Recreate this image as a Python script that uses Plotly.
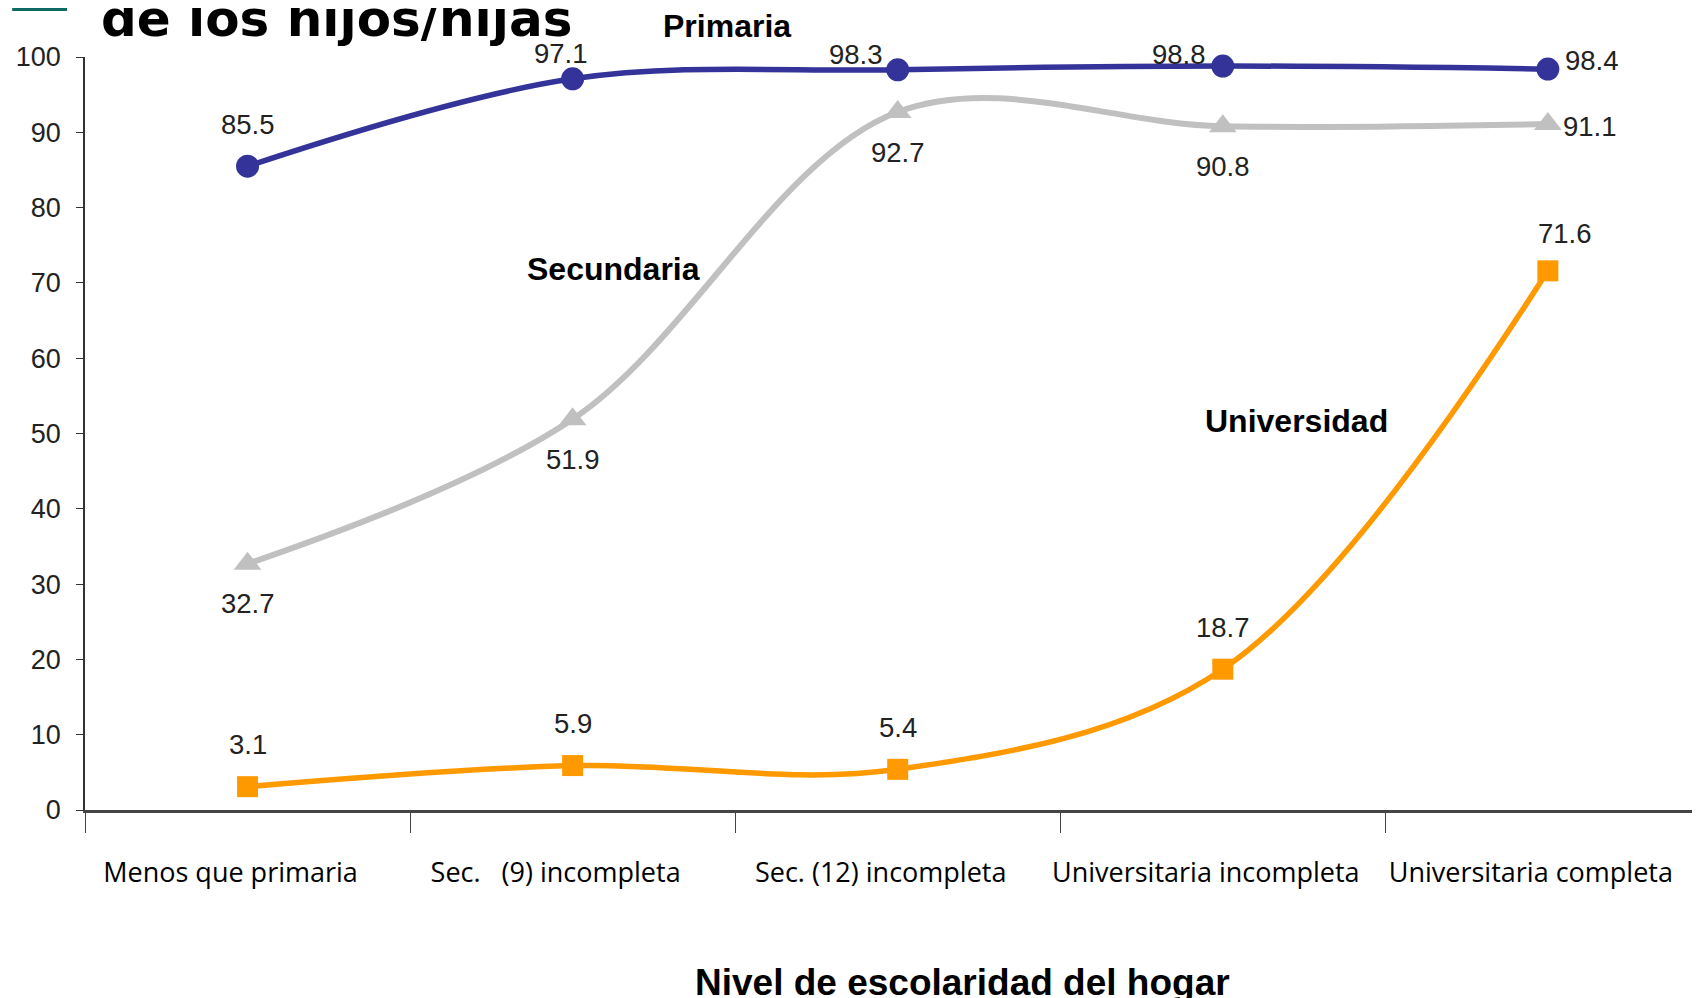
import plotly.graph_objects as go

categories = ["Menos que primaria", "Sec.   (9) incompleta", "Sec. (12) incompleta",
              "Universitaria incompleta", "Universitaria completa"]
primaria = [85.5, 97.1, 98.3, 98.8, 98.4]
secundaria = [32.7, 51.9, 92.7, 90.8, 91.1]
universidad = [3.1, 5.9, 5.4, 18.7, 71.6]
y_ticks = [0, 10, 20, 30, 40, 50, 60, 70, 80, 90, 100]

# label offsets (pixels) for the value labels
prim_shift = [(0, 42), (-12, 25), (-42, 15), (-44, 12), (44, 9)]
sec_shift = [(0, -40), (0, -40), (0, -41), (0, -40), (42, -2)]
uni_shift = [(0, 42), (0, 42), (0, 42), (0, 42), (17, 37)]

NAVY = "#333399"
GRAY = "#c0c0c0"
ORANGE = "#ff9900"

L, R, T, B = 73, 8, 49, 196
PW = 1700 - L - R
PH = 998 - T - B

fig = go.Figure()
series = [
    ("Primaria", primaria, NAVY, "circle", 23, 5.5, prim_shift),
    ("Secundaria", secundaria, GRAY, "triangle-up", 24, 6, sec_shift),
    ("Universidad", universidad, ORANGE, "square", 21, 5.5, uni_shift),
]
annotations = []
for name, vals, col, sym, msz, lw, shifts in series:
    fig.add_trace(go.Scatter(
        x=categories, y=vals, name=name, mode="lines+markers",
        line=dict(color=col, width=lw, shape="spline", smoothing=1),
        marker=dict(symbol=sym, size=msz, color=col),
        cliponaxis=False, showlegend=False,
    ))
    for c, v, (dx, dy) in zip(categories, vals, shifts):
        annotations.append(dict(
            x=c, y=v, xref="x", yref="y", text=f"{v:.1f}", showarrow=False,
            xanchor="center", yanchor="middle",
            xshift=dx, yshift=dy, font=dict(family="Liberation Sans, Arial", size=27.5, color="#222222"),
        ))

# series name labels (paper coordinates)
name_labels = [("Primaria", 0.3977, 1.041), ("Secundaria", 0.3273, 0.718), ("Universidad", 0.7504, 0.516)]
for txt, xx, yy in name_labels:
    annotations.append(dict(
        x=xx, y=yy, xref="paper", yref="paper", text=f"<b>{txt}</b>", showarrow=False,
        xanchor="center", yanchor="middle",
        font=dict(family="Liberation Sans, Arial", size=32, color="#000000"),
    ))

# title (partially cut off at the top)
annotations.append(dict(
    x=(87 - L) / PW, y=1, xref="paper", yref="paper", xanchor="left", yanchor="bottom",
    text="<b>de los hijos/hijas</b>", showarrow=False, yshift=7,
    font=dict(family="DejaVu Sans", size=50, color="#000000"),
))
# x axis title
annotations.append(dict(
    x=(953 - L) / PW, y=0, xref="paper", yref="paper", xanchor="center", yanchor="middle",
    yshift=-172, text="<b>Nivel de escolaridad del hogar</b>", showarrow=False,
    font=dict(family="Liberation Sans, Arial", size=37, color="#000000"),
))

fig.update_layout(
    width=1700, height=998,
    margin=dict(l=L, r=R, t=T, b=B),
    plot_bgcolor="white", paper_bgcolor="white",
    annotations=annotations,
    shapes=[dict(type="rect", xref="paper", yref="paper",
                 x0=(0 - L) / PW, x1=(55 - L) / PW, y0=(PH + T - 3) / PH, y1=(PH + T) / PH,
                 fillcolor="#0e6b63", line=dict(width=0))],
)
fig.update_xaxes(
    range=[-0.5, 4.468], showgrid=False, showline=True, linecolor="#444444", linewidth=2.5,
    ticks="outside", tickson="boundaries", ticklen=20, tickwidth=1.2, tickcolor="#444444",
    tickfont=dict(family="Open Sans", size=27, color="#000000"),
    ticklabelstandoff=37, ticklabelshift=-17, zeroline=False,
)
fig.update_yaxes(
    range=[0, 100], tickvals=y_ticks, showgrid=False, showline=True, linecolor="#333333",
    linewidth=1.5, ticks="outside", ticklen=7, tickcolor="#333333",
    tickfont=dict(family="Liberation Sans, Arial", size=27, color="#222222"),
    ticklabelstandoff=10, zeroline=False,
)

fig.write_html("out.html")
